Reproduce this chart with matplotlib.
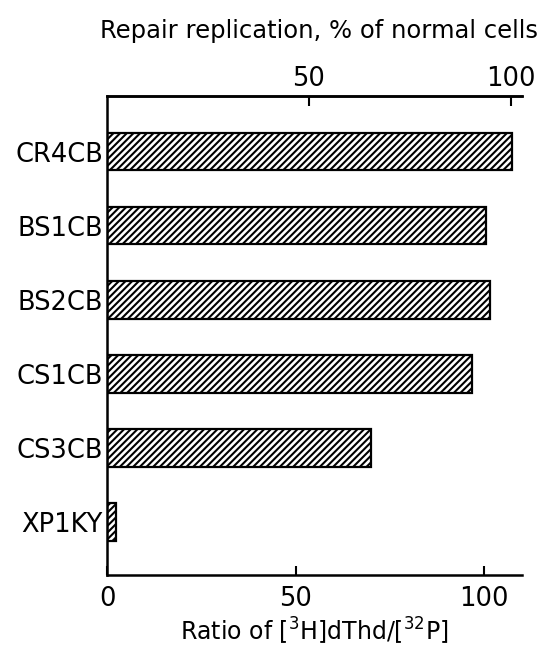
import matplotlib
matplotlib.use('Agg')
import matplotlib.pyplot as plt

# cell strains, top to bottom
cells = ['CR4CB', 'BS1CB', 'BS2CB', 'CS1CB', 'CS3CB', 'XP1KY']
# ratio of [3H]dThd / [32P]
ratio = [107.2, 100.5, 101.6, 96.8, 70.0, 2.3]
# ratio value that equals 100 % of normal cells (top axis)
normal_ratio = 107.0

bottom_ticks = [0, 50, 100]
top_ticks = [50, 100]

plt.rcParams['font.family'] = ['DejaVu Sans']
plt.rcParams['hatch.linewidth'] = 1.5
plt.rcParams['mathtext.fontset'] = 'dejavusans'

fig = plt.figure(figsize=(5.41, 6.48), dpi=100)
ax = fig.add_axes([0.198, 0.1127, 0.767, 0.739])

pos = list(range(len(cells)))
ax.barh(pos, ratio, height=0.51, color='white', edgecolor='black',
        linewidth=1.6, hatch='/////')

ax.set_xlim(0, 110)
ax.set_ylim(5.72, -0.75)
ax.set_yticks(pos)
ax.set_yticklabels(cells, fontsize=18.5)
ax.tick_params(axis='y', length=0, pad=3)
ax.set_xticks(bottom_ticks)
ax.tick_params(axis='x', direction='in', length=6.5, width=1.5,
               labelsize=18.5, pad=8)

for side in ['left', 'bottom', 'top']:
    ax.spines[side].set_linewidth(1.8)
ax.spines['right'].set_visible(False)

secax = ax.secondary_xaxis('top', functions=(lambda x: x * 100 / normal_ratio,
                                             lambda p: p * normal_ratio / 100))
secax.set_xticks(top_ticks)
secax.tick_params(direction='in', length=7, width=1.5, labelsize=18.5, pad=3)
secax.spines['top'].set_linewidth(1.8)

ax.set_xlabel('Ratio of [$^{3}$H]dThd/[$^{32}$P]', fontsize=17, labelpad=3)
fig.text(0.59, 0.952, 'Repair replication, % of normal cells',
         fontsize=17.5, ha='center', va='center')

fig.savefig('out.png', dpi=100)
